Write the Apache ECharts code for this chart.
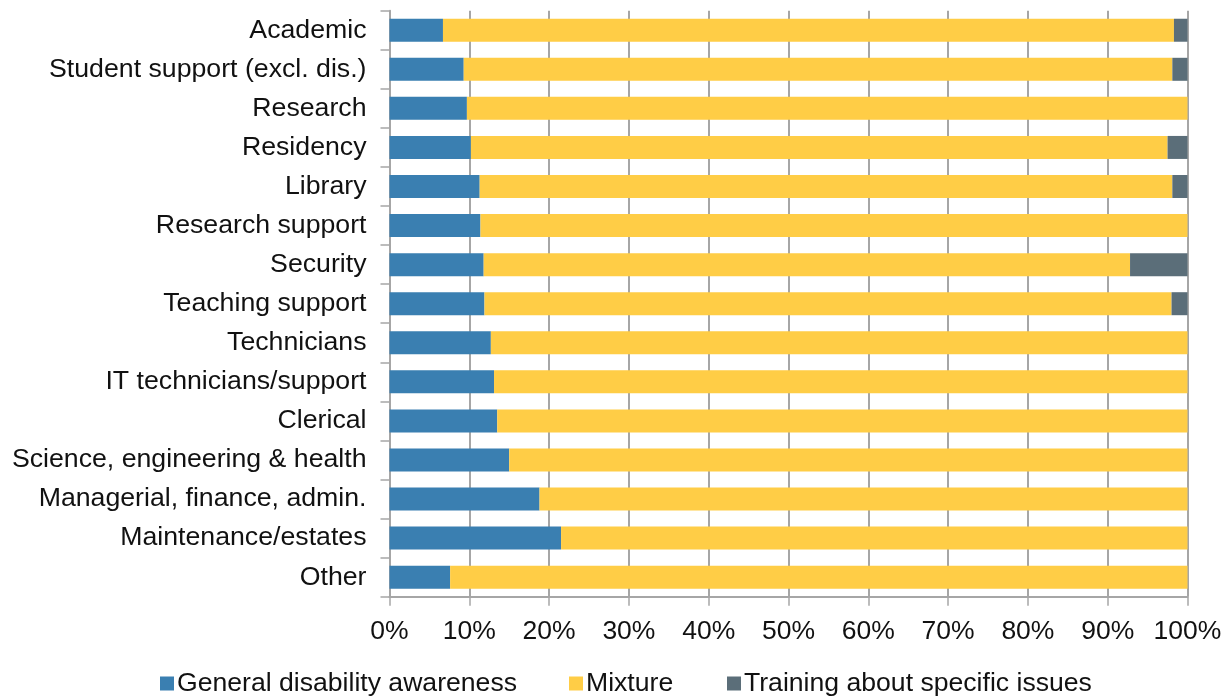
<!DOCTYPE html>
<html>
<head>
<meta charset="utf-8">
<script src="https://cdn.jsdelivr.net/npm/echarts@6/dist/echarts.min.js"></script>
<style>
html,body{margin:0;padding:0;background:#fff;}
#chart{width:1229px;height:697px;}
</style>
</head>
<body>
<div id="chart"></div>
<script>
const categories = ["Academic","Student support (excl. dis.)","Research","Residency","Library","Research support","Security","Teaching support","Technicians","IT technicians/support","Clerical","Science, engineering & health","Managerial, finance, admin.","Maintenance/estates","Other"];
const generalAwareness = [6.7, 9.3, 9.7, 10.2, 11.3, 11.4, 11.8, 11.9, 12.7, 13.1, 13.5, 15.0, 18.8, 21.5, 7.6];
const mixture = [91.6, 88.8, 90.3, 87.3, 86.8, 88.6, 81.0, 86.1, 87.3, 86.9, 86.5, 85.0, 81.2, 78.5, 92.4];
const specificIssues = [1.7, 1.9, 0, 2.5, 1.9, 0, 7.2, 2.0, 0, 0, 0, 0, 0, 0, 0];
const seriesNames = ["General disability awareness","Mixture","Training about specific issues"];
const xTicks = {min: 0, max: 100, interval: 10};

const colors = ["#3a7fb1", "#ffcd46", "#5b6e79"];
const font = "Liberation Sans, Arial, sans-serif";
const gridColor = "#a6a6a6";

const chart = echarts.init(document.getElementById('chart'));
const legendBase = {
  top: 665, itemWidth: 14, itemHeight: 14, icon: 'rect', itemGap: 6,
  textStyle: {fontFamily: font, fontSize: 26.6, color: '#111', padding: [0,0,0,-2]}
};
chart.setOption({
  animation: false,
  color: colors,
  grid: {left: 389.5, right: 41.5, top: 10.7, bottom: 100.3, containLabel: false},
  xAxis: {
    type: 'value', min: xTicks.min, max: xTicks.max, interval: xTicks.interval,
    axisLine: {show: true, lineStyle: {color: gridColor, width: 2}},
    axisTick: {show: true, length: 9, lineStyle: {color: gridColor, width: 1.5}},
    splitLine: {show: true, lineStyle: {color: gridColor, width: 2}},
    axisLabel: {formatter: '{value}%', fontFamily: font, fontSize: 26.5, color: '#111', margin: 21}
  },
  yAxis: {
    type: 'category', data: categories, inverse: true,
    axisLine: {show: true, lineStyle: {color: gridColor, width: 2}},
    axisTick: {show: true, length: 9, lineStyle: {color: gridColor, width: 1.5}},
    axisLabel: {fontFamily: font, fontSize: 26.7, color: '#111', margin: 23}
  },
  legend: [
    Object.assign({}, legendBase, {left: 155, data: [seriesNames[0]]}),
    Object.assign({}, legendBase, {left: 564, data: [seriesNames[1]]}),
    Object.assign({}, legendBase, {left: 722, data: [seriesNames[2]]})
  ],
  series: [
    {name: seriesNames[0], type: 'bar', stack: 'a', data: generalAwareness, barWidth: 23},
    {name: seriesNames[1], type: 'bar', stack: 'a', data: mixture, barWidth: 23},
    {name: seriesNames[2], type: 'bar', stack: 'a', data: specificIssues, barWidth: 23}
  ]
});
</script>
</body>
</html>
